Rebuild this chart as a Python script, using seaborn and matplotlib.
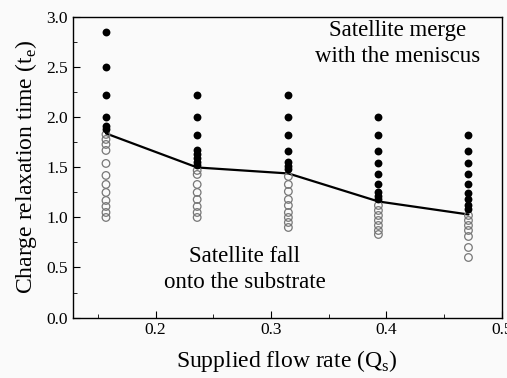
import matplotlib
matplotlib.use('Agg')
import matplotlib.pyplot as plt
import seaborn as sns
import pandas as pd
from matplotlib.ticker import MultipleLocator

# supplied flow rate columns
flow = [0.157, 0.236, 0.315, 0.393, 0.471]

# satellite merges with the meniscus (filled)
merge = [
    [2.85, 2.50, 2.22, 2.00, 1.91, 1.88],
    [2.22, 2.00, 1.82, 1.67, 1.63, 1.59, 1.55, 1.52],
    [2.22, 2.00, 1.82, 1.66, 1.55, 1.51, 1.48],
    [2.00, 1.82, 1.66, 1.54, 1.43, 1.33, 1.25, 1.21, 1.18],
    [1.82, 1.66, 1.54, 1.43, 1.33, 1.24, 1.18, 1.12, 1.08],
]
# satellite falls onto the substrate (open)
fall = [
    [1.83, 1.78, 1.73, 1.67, 1.54, 1.42, 1.33, 1.25, 1.17, 1.11, 1.05, 1.00],
    [1.47, 1.43, 1.33, 1.25, 1.18, 1.11, 1.05, 1.00],
    [1.41, 1.33, 1.26, 1.18, 1.12, 1.05, 1.00, 0.95, 0.90],
    [1.12, 1.07, 1.02, 0.97, 0.92, 0.87, 0.83],
    [1.02, 0.97, 0.92, 0.87, 0.81, 0.70, 0.60],
]
# boundary
boundary = [1.84, 1.50, 1.44, 1.16, 1.03]

sns.set_style('ticks')
plt.rcParams['font.family'] = ['Liberation Serif', 'DejaVu Serif']
plt.rcParams['mathtext.fontset'] = 'custom'
plt.rcParams['mathtext.rm'] = 'Liberation Serif'
plt.rcParams['text.color'] = 'black'
plt.rcParams['axes.labelcolor'] = 'black'
plt.rcParams['xtick.color'] = 'black'
plt.rcParams['ytick.color'] = 'black'
plt.rcParams['axes.edgecolor'] = 'black'

df_merge = pd.DataFrame([(q, t) for q, ts in zip(flow, merge) for t in ts], columns=['q', 't'])
df_fall = pd.DataFrame([(q, t) for q, ts in zip(flow, fall) for t in ts], columns=['q', 't'])
df_line = pd.DataFrame({'q': flow, 't': boundary})

fig = plt.figure(figsize=(5.07, 3.78), dpi=100, facecolor='#fafafa')
ax = fig.add_axes([0.143, 0.160, 0.847, 0.794])
ax.set_facecolor('#fafafa')

sns.lineplot(data=df_line, x='q', y='t', color='black', lw=1.6, ax=ax, zorder=2)
sns.scatterplot(data=df_fall, x='q', y='t', marker='o', s=30, facecolor='none',
                edgecolor='#777777', linewidth=0.9, ax=ax, zorder=3)
sns.scatterplot(data=df_merge, x='q', y='t', marker='o', s=32, color='black',
                edgecolor='black', linewidth=0, ax=ax, zorder=4)

ax.set_xlim(0.128, 0.5)
ax.set_ylim(0, 3.0)
ax.xaxis.set_major_locator(MultipleLocator(0.1))
ax.xaxis.set_minor_locator(MultipleLocator(0.05))
ax.yaxis.set_major_locator(MultipleLocator(0.5))
ax.yaxis.set_minor_locator(MultipleLocator(0.25))
ax.tick_params(which='both', direction='in', labelsize=12.5, top=False, right=False)
ax.tick_params(which='major', length=5)
ax.tick_params(which='minor', length=3)
for s in ax.spines.values():
    s.set_linewidth(1.0)

ax.set_xlabel(r'Supplied flow rate (Q$_\mathrm{s}$)', fontsize=17, labelpad=7)
ax.set_ylabel(r'Charge relaxation time (t$_\mathrm{e}$)', fontsize=17, labelpad=5)

ax.text(0.41, 2.74, 'Satellite merge\nwith the meniscus', fontsize=16.5,
        ha='center', va='center', linespacing=1.3)
ax.text(0.277, 0.48, 'Satellite fall\nonto the substrate', fontsize=16.5,
        ha='center', va='center', linespacing=1.3)

fig.savefig('out.png', dpi=100, facecolor=fig.get_facecolor())
